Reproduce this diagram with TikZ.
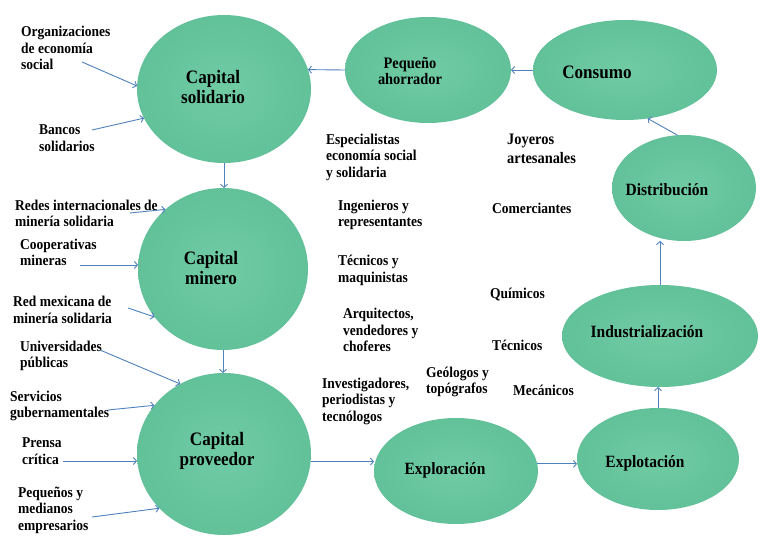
\documentclass[tikz,border=0pt]{standalone}
\usepackage{fontspec}
\setmainfont{Liberation Serif}[FakeStretch=0.9]
\usetikzlibrary{shapes.geometric,arrows.meta}
\definecolor{arrowblue}{RGB}{79,129,189}
\definecolor{blobA}{RGB}{112,203,163}
\definecolor{blobB}{RGB}{96,192,152}
\definecolor{blobC}{RGB}{78,174,136}
\pgfdeclareradialshading{blobshade}{\pgfpoint{0bp}{0bp}}{color(0bp)=(blobA); color(28bp)=(blobB); color(44bp)=(blobB); color(50bp)=(blobC); color(72bp)=(blobC)}
\begin{document}
\begin{tikzpicture}[x=1pt,y=-1pt,
  blob/.style={ellipse, shading=blobshade, inner sep=0pt, outer sep=0pt},
  lbl/.style={font=\fontsize{15}{16.5}\selectfont\bfseries, align=left, anchor=west, inner sep=0pt, text=black},
  biglbl/.style={font=\fontsize{19}{19.5}\selectfont\bfseries, align=center, inner sep=0pt, text=black},
  midlbl/.style={font=\fontsize{16}{16}\selectfont\bfseries, align=center, inner sep=0pt, text=black},
  medlbl/.style={font=\fontsize{17.2}{18}\selectfont\bfseries, align=center, inner sep=0pt, text=black},
  arr/.style={draw=arrowblue, line width=0.9pt, -{Straight Barb[length=3pt,width=7pt]}}]
\useasboundingbox (0,0) rectangle (761,537);
\fill[white] (0,0) rectangle (761,537);

% ellipses
\node[blob, minimum width=174, minimum height=148] (sol) at (224,89) {};
\node[blob, minimum width=170, minimum height=162] (mine) at (223,269) {};
\node[blob, minimum width=174, minimum height=162] (prov) at (224,454) {};
\node[blob, minimum width=166, minimum height=106] (peq) at (428,70) {};
\node[blob, minimum width=184, minimum height=100] (con) at (625,70) {};
\node[blob, minimum width=144, minimum height=106] (dis) at (684,188) {};
\node[blob, minimum width=196, minimum height=102] (ind) at (660,336) {};
\node[blob, minimum width=162, minimum height=102] (exl) at (658,459) {};
\node[blob, minimum width=164, minimum height=106] (exp) at (456,471) {};

% ellipse labels
\node[biglbl] (tsol) at (213,87) {Capital\\solidario};
\node[biglbl] (tmine) at (211,268) {Capital\\minero};
\node[biglbl] (tprov) at (217,451) {Capital\\proveedor};
\node[midlbl] (tpeqa) at (410,71) {Pequeño\\ahorrador};
\node[biglbl] (tcon) at (597,72) {Consumo};
\node[medlbl] (tdis) at (667,190) {Distribución};
\node[medlbl] (tind) at (647,332) {Industrialización};
\node[medlbl] (texl) at (645,463) {Explotación};
\node[medlbl] (texp) at (445,470) {Exploración};

% flow arrows
\draw[arr] (peq.west) -- (sol.13);
\draw[arr] (con.west) -- (peq.east);
\draw[arr] (dis.97) -- (con.-65);
\draw[arr] (ind.north) -- (ind.north |- dis.south);
\draw[arr] (exl.north) -- (exl.north |- ind.south);
\draw[arr] (exp.5) -- (exp.5 -| exl.west);
\draw[arr] (prov.-5) -- (prov.-5 -| exp.west);
\draw[arr] (sol.south) -- (sol.south |- mine.north);
\draw[arr] (mine.south) -- (mine.south |- prov.north);

% left labels
\node[lbl] (torg) at (21,48) {Organizaciones\\de economía\\social};
\node[lbl] (tban) at (39,138) {Bancos\\solidarios};
\node[lbl] (tred) at (15,213.5) {Redes internacionales de\\minería solidaria};
\node[lbl] (tcoo) at (20,252.5) {Cooperativas\\mineras};
\node[lbl] (tmex) at (13,310) {Red mexicana de\\minería solidaria};
\node[lbl] (tuni) at (20,356) {Universidades\\públicas};
\node[lbl] (tser) at (10,406) {Servicios\\gubernamentales};
\node[lbl] (tpre) at (22,451) {Prensa\\crítica};
\node[lbl] (tpeq) at (18,510) {Pequeños y\\medianos\\empresarios};

% input arrows
\coordinate (s1) at (82,62);
\coordinate (s2) at (92,130);
\coordinate (s3) at (130,213);
\coordinate (s4) at (80,265);
\coordinate (s5) at (128,308);
\coordinate (s6) at (100,350);
\coordinate (s7) at (108,410);
\coordinate (s8) at (63,461);
\coordinate (s9) at (92,517);
\draw[arr] (s1) -- (sol.178);
\draw[arr] (s2) -- (sol.-160);
\draw[arr] (s3) -- (mine.134);
\draw[arr] (s4) -- (s4 -| mine.west);
\draw[arr] (s5) -- (mine.-145);
\draw[arr] (s6) -- (prov.122);
\draw[arr] (s7) -- (prov.145);
\draw[arr] (s8) -- (s8 -| prov.west);
\draw[arr] (s9) -- (prov.-140);

% middle labels
\node[lbl] (tesp) at (326,157) {Especialistas\\economía social\\y solidaria};
\node[lbl] (ting) at (338,215) {Ingenieros y\\representantes};
\node[lbl] (ttec) at (338,270.5) {Técnicos y\\maquinistas};
\node[lbl] (tarq) at (343,330) {Arquitectos,\\vendedores y\\choferes};
\node[lbl] (tinv) at (322,401) {Investigadores,\\periodistas y\\tecnólogos};
\node[lbl] (tgeo) at (426,382) {Geólogos y\\topógrafos};
\node[lbl] (tmec) at (513,390) {Mecánicos};
\node[lbl] (ttc2) at (492,345) {Técnicos};
\node[lbl] (tqui) at (490,295) {Químicos};
\node[lbl] (tcom) at (492,208) {Comerciantes};
\node[lbl, font=\fontsize{16}{19}\selectfont\bfseries] (tjoy) at (507,148.5) {Joyeros\\artesanales};
\end{tikzpicture}
\end{document}
